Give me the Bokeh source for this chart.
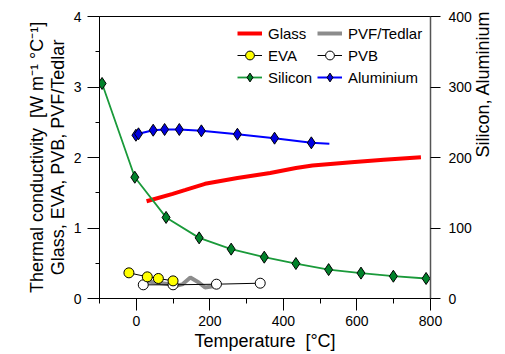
import math
from bokeh.plotting import figure
from bokeh.models import Range1d, LinearAxis, FixedTicker, Legend, LegendItem
from bokeh.embed import file_html
from bokeh.resources import INLINE

# ---- data ----
glass_t = [28, 99, 134, 187, 275, 364, 434, 479, 585, 673, 774]
glass_k = [1.38, 1.485, 1.54, 1.627, 1.71, 1.78, 1.85, 1.887, 1.934, 1.967, 2.004]

eva_t = [-20, 30, 60, 100]
eva_k = [0.364, 0.307, 0.284, 0.25]

pvb_t = [19, 100, 218, 337]
pvb_k = [0.194, 0.194, 0.203, 0.217]

pvf_t = [24, 37, 90, 108, 125, 147, 170, 187, 205, 210]
pvf_k = [0.24, 0.237, 0.203, 0.18, 0.2, 0.298, 0.227, 0.156, 0.17, 0.17]

si_t = [-93, -4, 81, 171, 258, 348, 434, 523, 611, 699, 788]
si_k = [305, 172, 115, 86, 70, 58.6, 49.6, 41, 36, 31.6, 28.4]

al_t = [-1, 6, 46, 77, 117, 177, 275, 376, 476]
al_k = [231.6, 233.6, 238.7, 239.7, 239.7, 237.8, 233, 227.4, 220.8]
al_line_t = al_t + [525]
al_line_k = al_k + [219.4]

x_major = [0, 200, 400, 600, 800]
x_minor = [-100, 100, 300, 500, 700]
yl_major = [0, 1, 2, 3, 4]
yl_minor = [0.5, 1.5, 2.5, 3.5]
yr_major = [0, 100, 200, 300, 400]

FONT = "Liberation Sans"

p = figure(width=505, height=354, output_backend="svg", toolbar_location=None,
           x_range=Range1d(-100, 800), y_range=Range1d(0, 4),
           min_border_left=99, min_border_right=68, min_border_top=16, min_border_bottom=56)
p.extra_y_ranges = {"right": Range1d(0, 400)}
p.grid.visible = False
p.outline_line_color = "black"
p.outline_line_width = 1
p.background_fill_color = "white"

# axes styling
xa = p.xaxis[0]
xa.ticker = FixedTicker(ticks=x_major, minor_ticks=x_minor)
xa.axis_label = "Temperature\u00a0 [°C]"
ya = p.yaxis[0]
ya.ticker = FixedTicker(ticks=yl_major, minor_ticks=yl_minor)
ya.axis_label = "Thermal conductivity\u00a0 [W m⁻¹ °C⁻¹]\nGlass, EVA, PVB, PVF/Tedlar"

# right axis with ticks (no title)
ra = LinearAxis(y_range_name="right", ticker=FixedTicker(ticks=yr_major, minor_ticks=[]))
p.add_layout(ra, "right")
# outer right axis carrying only the title, reading bottom-to-top
rt = LinearAxis(y_range_name="right", ticker=FixedTicker(ticks=[], minor_ticks=[]),
                axis_label="Silicon, Aluminium")
p.add_layout(rt, "right")

for ax in (xa, ya, ra, rt):
    ax.major_label_text_font = FONT
    ax.major_label_text_font_size = "14px"
    ax.major_label_text_color = "black"
    ax.axis_label_text_font = FONT
    ax.axis_label_text_font_size = "18px"
    ax.axis_label_text_font_style = "normal"
    ax.axis_label_text_color = "black"
    ax.axis_line_color = "black"
    ax.major_tick_line_color = "black"
    ax.minor_tick_line_color = "black"
    ax.major_tick_in = 0
    ax.minor_tick_in = 0
    ax.major_label_standoff = 6
    ax.axis_label_standoff = 4

xa.major_tick_out = 12
xa.minor_tick_out = 5
xa.major_label_standoff = 5
xa.axis_label_standoff = 2
ya.major_tick_out = 12
ya.minor_tick_out = 4
ya.axis_label_standoff = 3
ya.axis_label_text_line_height = 1.05
ra.major_tick_out = 10
ra.minor_tick_out = 0
ra.major_label_standoff = 8
ra.axis_line_color = "#555555"
ra.axis_line_width = 1.5
rt.axis_line_color = None
rt.major_tick_out = 0
rt.minor_tick_out = 0
rt.major_label_standoff = 0
rt.axis_label_standoff = 8
rt.axis_label_text_line_height = 0.9
rt.axis_label_orientation = math.pi / 2

# ---- glyphs ----
r_glass = p.line(glass_t, glass_k, line_color="#ff0000", line_width=4)

r_pvf = p.line(pvf_t, pvf_k, line_color="#8c8c8c", line_width=4)

r_pvb_l = p.line(pvb_t, pvb_k, line_color="black", line_width=1)
r_pvb_m = p.scatter(pvb_t, pvb_k, marker="circle", size=10, fill_color="white",
                    line_color="black", line_width=1)

r_eva_l = p.line(eva_t, eva_k, line_color="black", line_width=1)
r_eva_m = p.scatter(eva_t, eva_k, marker="circle", size=10, fill_color="#ffff00",
                    line_color="black", line_width=1)

r_si_l = p.line(si_t, si_k, line_color="#1a9a3a", line_width=1.8, y_range_name="right")
r_si_m = p.scatter(si_t, si_k, marker="diamond", size=12, fill_color="#00822a",
                   line_color="black", line_width=1, y_range_name="right")

r_al_l = p.line(al_line_t, al_line_k, line_color="#0000ff", line_width=2, y_range_name="right")
r_al_m = p.scatter(al_t, al_k, marker="diamond", size=12, fill_color="#0000e0",
                   line_color="black", line_width=1, y_range_name="right")

# ---- legends (two columns) ----
def mk_legend(items, x, y):
    lg = Legend(items=items, location=(x, y), border_line_color=None,
                background_fill_alpha=0, padding=0, margin=0, spacing=0,
                glyph_width=25, glyph_height=22, label_height=22,
                label_standoff=6, label_text_font=FONT,
                label_text_font_size="15px", label_text_color="black")
    p.add_layout(lg, "center")

mk_legend([LegendItem(label="Glass", renderers=[r_glass]),
           LegendItem(label="EVA", renderers=[r_eva_l, r_eva_m]),
           LegendItem(label="Silicon", renderers=[r_si_l, r_si_m])], 138, 210)
mk_legend([LegendItem(label="PVF/Tedlar", renderers=[r_pvf]),
           LegendItem(label="PVB", renderers=[r_pvb_l, r_pvb_m]),
           LegendItem(label="Aluminium", renderers=[r_al_l, r_al_m])], 218, 210)

open("out.html", "w").write(file_html(p, INLINE))
